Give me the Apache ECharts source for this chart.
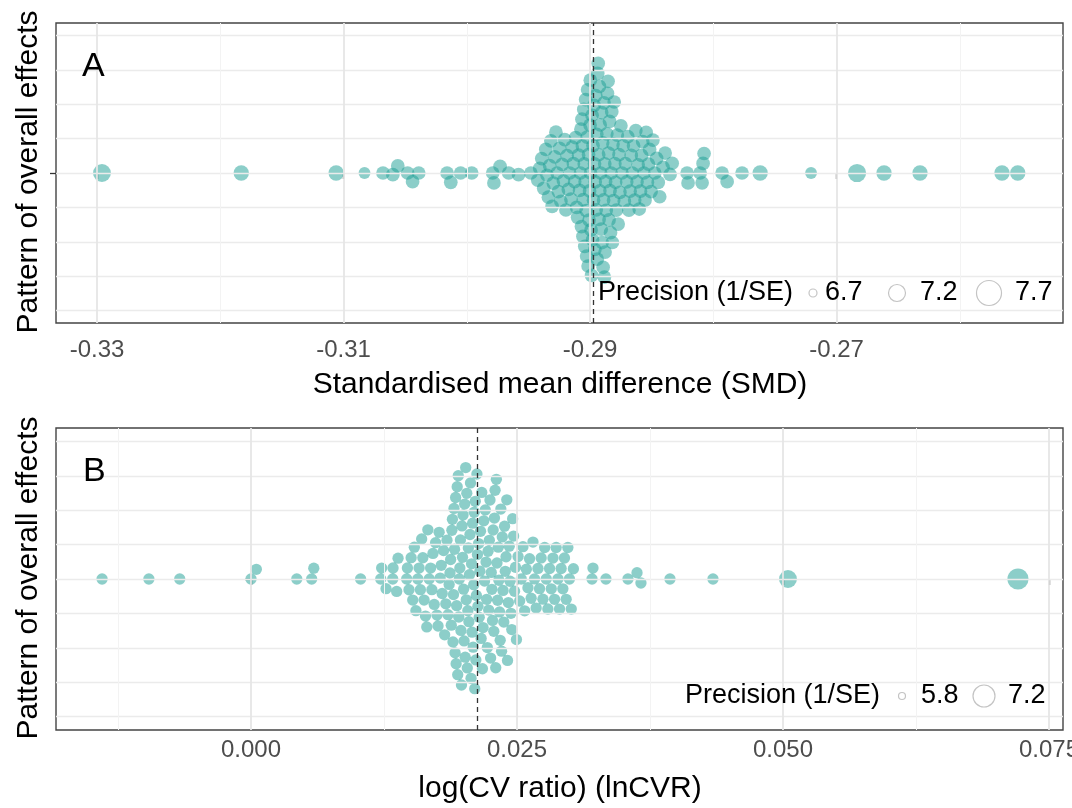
<!DOCTYPE html>
<html><head><meta charset="utf-8">
<script src="https://cdn.jsdelivr.net/npm/echarts@6/dist/echarts.min.js"></script>
<style>html,body{margin:0;padding:0;background:#fff}#c{width:1072px;height:808px}</style>
</head><body><div id="c"></div>
<script>
// ---------- Panel A : standardised mean difference ----------
const smdValues = [
-0.3296,-0.3183,-0.3106,-0.3083,-0.3068,-0.3060,-0.3056,-0.3048,-0.3044,-0.3039,-0.3016,-0.3013,-0.3005,-0.2996,
-0.2979,-0.2978,-0.2973,-0.2966,-0.2958,-0.2948,
-0.29424,-0.29408,-0.29392,-0.29376,
-0.29359,-0.29349,-0.29338,-0.29328,-0.29318,-0.29308,-0.29298,-0.29287,-0.29277,-0.29267,-0.29257,-0.29247,
-0.29237,-0.29226,-0.29216,-0.29206,-0.29196,-0.29186,-0.29176,-0.29165,-0.29155,-0.29145,-0.29135,-0.29125,
-0.29117,-0.29109,-0.29101,-0.29093,-0.29085,
-0.29078,-0.29074,-0.29070,-0.29066,-0.29062,-0.29058,-0.29055,-0.29051,-0.29047,-0.29043,-0.29040,
-0.29036,-0.29032,-0.29028,-0.29024,-0.29020,-0.29016,-0.29012,-0.29008,-0.29004,-0.29000,-0.28998,
-0.28996,-0.28992,-0.28988,-0.28984,-0.28980,-0.28976,-0.28972,-0.28968,-0.28964,-0.28961,-0.28958,
-0.28954,-0.28950,-0.28946,-0.28942,-0.28938,-0.28934,-0.28930,-0.28927,-0.28924,-0.28921,-0.28918,
-0.28914,-0.28910,-0.28906,-0.28902,-0.28898,-0.28894,-0.28890,-0.28887,-0.28884,-0.28881,-0.28878,
-0.28874,-0.28869,-0.28864,-0.28859,-0.28854,-0.28850,-0.28846,-0.28842,-0.28838,
-0.28834,-0.28829,-0.28824,-0.28819,-0.28814,-0.28809,-0.28804,-0.28799,
-0.28793,-0.28786,-0.28779,-0.28772,-0.28765,-0.28758,
-0.28750,-0.28741,-0.28731,-0.28722,-0.28713,-0.28703,-0.28694,-0.28685,-0.28675,-0.28666,-0.28657,-0.28647,-0.28638,
-0.28629,-0.28619,-0.28610,-0.28601,-0.28591,-0.28582,-0.28573,-0.28563,-0.28554,-0.28545,-0.28535,-0.28526,-0.28517,
-0.28505,-0.28490,-0.28475,-0.28460,-0.28447,-0.28435,
-0.28408,-0.28391,-0.28351,-0.28334,-0.28213,-0.28205,-0.28107,-0.28091,-0.28083,-0.28075,
-0.27929,-0.27888,-0.27767,-0.27620,-0.27207,-0.26834,-0.26615,-0.26323,-0.25658,-0.25530
];
// precision (1/SE); unlisted points use the typical value
const smdPrecisionSpecial = {
  '-0.3296':7.75,'-0.3183':7.4,'-0.3106':7.4,'-0.3083':7.0,'-0.2762':7.4,'-0.27207':7.0,
  '-0.26834':7.8,'-0.26615':7.4,'-0.26323':7.4,'-0.25658':7.4,'-0.2553':7.4
};
const smdTypicalPrecision = 7.2;
const smdTicks = [-0.33,-0.31,-0.29,-0.27];
const smdMinorTicks = [-0.32,-0.30,-0.28,-0.26];
const smdMean = -0.28972;
const smdLegend = [6.7, 7.2, 7.7];

// ---------- Panel B : lnCVR ----------
const cvrValues = [
-0.0140,-0.0096,-0.0067,0.0000,0.0005,0.0043,0.0057,0.0059,0.0103,
0.01219,0.01228,0.01269,0.01332,0.01335,0.01369,0.01382,0.01463,
0.01470,0.01485,0.01505,0.01520,0.01535,0.01550,
0.01568,0.01580,0.01592,0.01604,0.01615,0.01627,0.01640,0.01652,
0.01662,0.01675,0.01688,0.01700,0.01710,0.01722,0.01735,0.01748,
0.01758,0.01768,0.01778,0.01788,0.01797,
0.01810,0.01820,0.01831,0.01842,0.01852,0.01862,
0.01870,0.01876,0.01882,0.01888,0.01893,0.01898,0.01903,0.01908,
0.01913,0.01918,0.01923,0.01928,0.01933,0.01938,0.01943,0.01948,0.01953,
0.01958,0.01963,0.01968,0.01973,0.01978,0.01983,0.01988,0.01993,0.01998,
0.02003,0.02008,0.02013,0.02018,0.02023,0.02028,0.02033,0.02038,0.02043,
0.02048,0.02053,0.02058,0.02063,0.02068,0.02073,0.02078,0.02083,0.02088,
0.02093,0.02098,0.02103,0.02108,0.02113,0.02118,0.02123,0.02128,0.02133,
0.02139,0.02145,0.02151,0.02157,0.02163,0.02169,0.02175,
0.02181,0.02188,0.02195,0.02202,0.02209,0.02215,0.02221,
0.02228,0.02234,0.02240,0.02246,0.02252,0.02258,0.02264,0.02270,0.02276,0.02282,
0.02288,0.02294,0.02300,0.02306,0.02312,0.02318,0.02324,0.02330,0.02336,0.02342,
0.02348,0.02355,0.02362,0.02369,0.02376,0.02383,0.02390,0.02397,0.02404,0.02411,
0.02419,0.02427,0.02435,0.02443,0.02451,0.02459,0.02468,0.02477,0.02486,0.02495,
0.02510,0.02525,0.02540,0.02556,0.02572,0.02588,0.02603,0.02618,0.02633,0.02650,0.02665,0.02680,
0.02697,0.02712,0.02727,0.02744,0.02760,0.02775,0.02790,0.02806,0.02822,0.02838,0.02853,0.02868,
0.02885,0.02900,0.02915,0.02931,0.02946,0.02962,0.02978,0.02993,0.03010,0.03030,
0.03205,0.03214,0.03336,0.03543,0.03628,0.03665,0.03938,0.04342,0.05047,0.07209
];
const cvrPrecisionSpecial = { '0.05047':6.8, '0.07209':7.2 };
const cvrTypicalPrecision = 6.2;
const cvrTicks = [0, 0.025, 0.05, 0.075];
const cvrMinorTicks = [-0.0125, 0.0125, 0.0375, 0.0625];
const cvrMean = 0.02122;
const cvrLegend = [5.8, 7.2];

// horizontal guide lines (y-axis units of the swarm offset axis)
const yGuides = [-137.6,-103.2,-68.8,-34.4,0,34.4,68.8,103.2,137.6];

// ---------- helpers ----------
const FONT = "'Liberation Sans', Arial, Helvetica, sans-serif";
const TEAL = 'rgba(30,158,150,0.64)';
function precOf(v, special, typical){ const k = String(v); return special[k] !== undefined ? special[k] : typical; }
function diamA(p){ const r2 = Math.max(4, 47 + 60*(p-7.2)); return 2*Math.sqrt(r2); }
function diamB(p){ const r2 = Math.max(4, 32 + 80*(p-6.2)); return 2*Math.sqrt(r2); }

// beeswarm ("swarm", ascending priority) in pixel space; side = preferred side on ties
function swarm(px, spacing, side){
  const order = px.map((v,i)=>i).sort((a,b)=>px[a]-px[b]);
  const placed = []; const off = new Array(px.length).fill(0);
  const s2 = spacing*spacing;
  for (const i of order){
    const x = px[i];
    const near = placed.filter(p => Math.abs(p.x-x) < spacing);
    const cands = [0];
    for (const p of near){ const dy = Math.sqrt(s2 - (p.x-x)*(p.x-x)); cands.push(p.y+dy, p.y-dy); }
    cands.sort((a,b)=> (Math.abs(a)-Math.abs(b)) || side*(b-a));
    let best = 0;
    for (const c of cands){ if (near.every(p => (p.x-x)*(p.x-x)+(p.y-c)*(p.y-c) >= s2-1e-6)){ best = c; break; } }
    placed.push({x:x, y:best}); off[i] = best;
  }
  return off;
}

const chart = echarts.init(document.getElementById('c'), null, {renderer:'canvas'});

const gridA = {left:56, top:23, width:1007, height:300};
const gridB = {left:56, top:428, width:1007, height:302};
const yRangeA = [-150, 150];
const yRangeB = [-151, 151];

function xAxisCfg(gi, min, max, ticks, dec, margin){
  return {gridIndex:gi, type:'value', min:min, max:max, position:'bottom',
    axisLine:{show:false}, splitLine:{show:false},
    axisTick:{show:true, customValues:ticks, length:6, lineStyle:{color:'#333', width:1.3}},
    axisLabel:{show:true, customValues:ticks, formatter:(v)=>Number(v).toFixed(dec), fontSize:24, color:'#4d4d4d', fontFamily:FONT, margin:margin, hideOverlap:false}};
}
function yAxisCfg(gi, rng){
  return {gridIndex:gi, type:'value', min:rng[0], max:rng[1], position:'left',
    axisLine:{show:false}, splitLine:{show:false}, axisLabel:{show:false},
    axisTick:{show:true, customValues:[0], length:6, lineStyle:{color:'#333', width:1.3}}};
}
function guideSeries(xi, minor, major){
  const data = [];
  yGuides.forEach(v => data.push({yAxis:v, lineStyle:{color:'#ebebeb', width:1.3, type:'solid'}}));
  minor.forEach(v => data.push({xAxis:v, lineStyle:{color:'#f3f3f3', width:1, type:'solid'}}));
  major.forEach(v => data.push({xAxis:v, lineStyle:{color:'#e6e6e6', width:1.8, type:'solid'}}));
  return {type:'scatter', xAxisIndex:xi, yAxisIndex:xi, data:[], z:1, silent:true,
    markLine:{silent:true, symbol:'none', precision:8, label:{show:false}, animation:false, data:data}};
}
function meanSeries(xi, mean){
  return {type:'scatter', xAxisIndex:xi, yAxisIndex:xi, data:[], z:5, silent:true,
    markLine:{silent:true, symbol:'none', precision:8, label:{show:false}, animation:false,
      lineStyle:{color:'#333', type:[5,4], width:1.3}, data:[{xAxis:mean}]}};
}

const gridStyle = {show:true, borderColor:'#444', borderWidth:1.4, outerBoundsMode:'none', containLabel:false};
const baseOption = {
  backgroundColor:'#fff', animation:false,
  grid:[Object.assign({}, gridStyle, gridA), Object.assign({}, gridStyle, gridB)],
  xAxis:[xAxisCfg(0, -0.33333, -0.25163, smdTicks, 2, 15), xAxisCfg(1, -0.01833, 0.07632, cvrTicks, 3, 8)],
  yAxis:[yAxisCfg(0, yRangeA), yAxisCfg(1, yRangeB)],
  series:[]
};
chart.setOption(baseOption);

function buildPoints(values, special, typical, xi, spacing, side, rng, gh){
  const px = values.map(v => chart.convertToPixel({xAxisIndex:xi}, v));
  const off = swarm(px, spacing, side);
  const k = (rng[1]-rng[0])/gh;
  return values.map((v,i) => [v, off[i]*k, precOf(v, special, typical)]);
}
const ptsA = buildPoints(smdValues, smdPrecisionSpecial, smdTypicalPrecision, 0, 10, -1, yRangeA, gridA.height);
const ptsB = buildPoints(cvrValues, cvrPrecisionSpecial, cvrTypicalPrecision, 1, 11, 1, yRangeB, gridB.height);

function legendGraphics(x0, yc, entries, radii, textX, circX){
  const g = [];
  g.push({type:'text', z:100, x:x0, y:yc, style:{text:'Precision (1/SE)', font:'27px '+FONT, fill:'#000', align:'left', verticalAlign:'middle'}});
  entries.forEach((e,i)=>{
    g.push({type:'circle', z:100, shape:{cx:circX[i], cy:yc, r:radii[i]}, style:{fill:'none', stroke:'#c4c4c4', lineWidth:1.2}});
    g.push({type:'text', z:100, x:textX[i], y:yc, style:{text:e.toFixed(1), font:'27px '+FONT, fill:'#000', align:'left', verticalAlign:'middle'}});
  });
  return g;
}

const graphics = [
  {type:'text', z:100, x:82, y:67, style:{text:'A', font:'34px '+FONT, fill:'#000', align:'left', verticalAlign:'middle'}},
  {type:'text', z:100, x:83, y:472, style:{text:'B', font:'34px '+FONT, fill:'#000', align:'left', verticalAlign:'middle'}},
  {type:'text', z:100, x:560, y:385, style:{text:'Standardised mean difference (SMD)', font:'30px '+FONT, fill:'#000', align:'center', verticalAlign:'middle'}},
  {type:'text', z:100, x:560, y:789, style:{text:'log(CV ratio) (lnCVR)', font:'30px '+FONT, fill:'#000', align:'center', verticalAlign:'middle'}},
  {type:'text', z:100, x:29, y:172, rotation:Math.PI/2, style:{text:'Pattern of overall effects', font:'30px '+FONT, fill:'#000', align:'center', verticalAlign:'middle'}},
  {type:'text', z:100, x:29, y:578, rotation:Math.PI/2, style:{text:'Pattern of overall effects', font:'30px '+FONT, fill:'#000', align:'center', verticalAlign:'middle'}}
].concat(
  legendGraphics(598, 293, smdLegend, [4, 8.5, 12.5], [825, 920, 1015], [813, 897, 989]),
  legendGraphics(685, 696, cvrLegend, [3.5, 11], [921, 1008], [902, 984])
);

chart.setOption({
  graphic: graphics,
  series:[
    guideSeries(0, smdMinorTicks, smdTicks),
    guideSeries(1, cvrMinorTicks, cvrTicks),
    {type:'scatter', xAxisIndex:0, yAxisIndex:0, z:3, data:ptsA,
      symbolSize:(d)=>diamA(d[2]), itemStyle:{color:TEAL}, silent:true},
    {type:'scatter', xAxisIndex:1, yAxisIndex:1, z:3, data:ptsB,
      symbolSize:(d)=>diamB(d[2]), itemStyle:{color:TEAL}, silent:true},
    meanSeries(0, smdMean),
    meanSeries(1, cvrMean)
  ]
});
</script>
</body></html>
